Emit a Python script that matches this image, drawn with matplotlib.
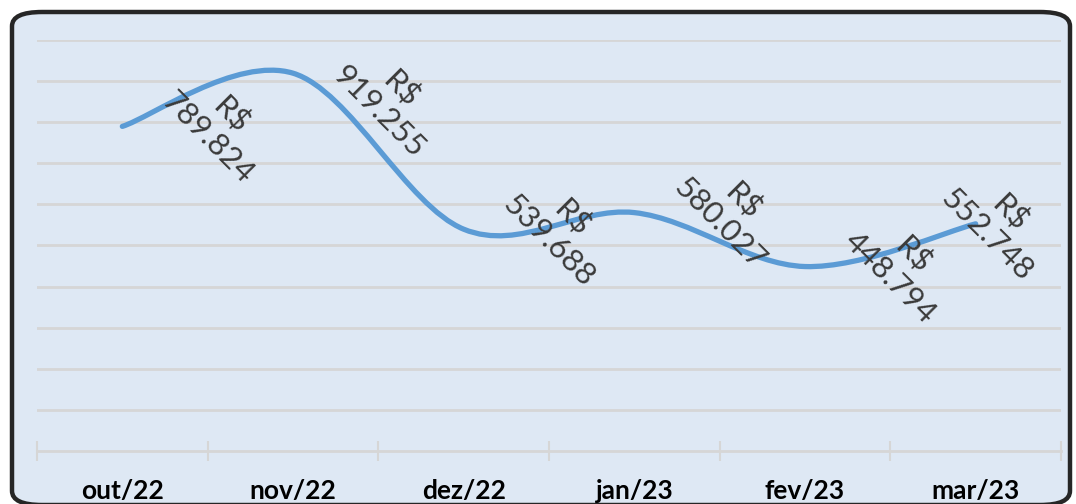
import matplotlib
matplotlib.use("Agg")
import matplotlib.pyplot as plt
from matplotlib.patches import FancyBboxPatch, PathPatch
from matplotlib.path import Path
import numpy as np

# data
months = ["out/22", "nov/22", "dez/22", "jan/23", "fev/23", "mar/23"]
values = [789.824, 919.255, 539.688, 580.027, 448.794, 552.748]
y_max = 1000
y_step = 100

LINE = "#5b9bd5"
BG = "#dee8f4"
GRID = "#d6d6d6"
TEXT = "#404040"


def smooth_path(xs, ys):
    # Excel-style smoothed line: cubic Bezier with 1/6 neighbour tangents
    pts = np.column_stack([xs, ys]).astype(float)
    ext = np.vstack([pts[0], pts, pts[-1]])
    verts = [pts[0]]
    codes = [Path.MOVETO]
    for i in range(len(pts) - 1):
        p0, p1, p2, p3 = ext[i], ext[i + 1], ext[i + 2], ext[i + 3]
        verts += [p1 + (p2 - p0) / 6, p2 - (p3 - p1) / 6, p2]
        codes += [Path.CURVE4] * 3
    return Path(verts, codes)


fig = plt.figure(figsize=(10.76, 5.04), dpi=100)
fig.patch.set_facecolor("white")

W, H = 1076, 504
frame = FancyBboxPatch((12 / W, -1 / H), 1058 / W, 493 / H,
                       boxstyle="round,pad=0,rounding_size=0.028",
                       transform=fig.transFigure, facecolor=BG,
                       edgecolor="#262626", linewidth=3.2, zorder=-5)
fig.patches.append(frame)

ax = fig.add_axes([37 / W, 53 / H, 1024 / W, 411 / H])
ax.set_zorder(2)
ax.set_facecolor("none")
x = np.arange(len(months))
ax.set_xlim(-0.5, len(months) - 0.5)
ax.set_ylim(0, y_max)

ax.set_yticks(np.arange(y_step, y_max + 1, y_step))
ax.yaxis.grid(True, color=GRID, linewidth=2)
ax.tick_params(axis="y", left=False, labelleft=False)
for s in ["top", "right", "left"]:
    ax.spines[s].set_visible(False)
ax.spines["bottom"].set_color(GRID)
ax.spines["bottom"].set_linewidth(2)

ax.set_xticks(np.arange(-0.5, len(months), 1.0))
ax.set_xticklabels([])
ax.tick_params(axis="x", which="major", direction="inout", length=14,
               width=1.5, color=GRID)
ax.set_xticks(x, minor=True)
ax.set_xticklabels(months, minor=True, fontsize=19, fontweight="bold",
                   family="Lato", color="black")
ax.tick_params(axis="x", which="minor", length=0, pad=20)

ax.add_patch(PathPatch(smooth_path(x, values), facecolor="none",
                       edgecolor=LINE, linewidth=3.8, capstyle="round",
                       zorder=3))

fig.canvas.draw()
renderer = fig.canvas.get_renderer()
abox = ax.get_window_extent(renderer)
labels = []
for xi, v in zip(x, values):
    t = ax.annotate("R$\n" + f"{v:.3f}", (xi, v), xytext=(97, 0),
                    textcoords="offset pixels", ha="center", va="center",
                    rotation=-45, rotation_mode="anchor", fontsize=22.5,
                    family="Lato", color="#3a3a3a", linespacing=1.15,
                    zorder=4)
    labels.append(t)

# keep data labels inside the plot area, like Excel does
fig.canvas.draw()
for t in labels:
    bb = t.get_window_extent(renderer)
    dx = dy = 0
    if bb.x1 > abox.x1:
        dx = abox.x1 - bb.x1
    if bb.y1 > abox.y1 + 2:
        dy = abox.y1 + 2 - bb.y1
    ox, oy = t.xyann
    t.xyann = (ox + dx, oy + dy)

fig.savefig("out.png", dpi=100, facecolor=fig.get_facecolor())
